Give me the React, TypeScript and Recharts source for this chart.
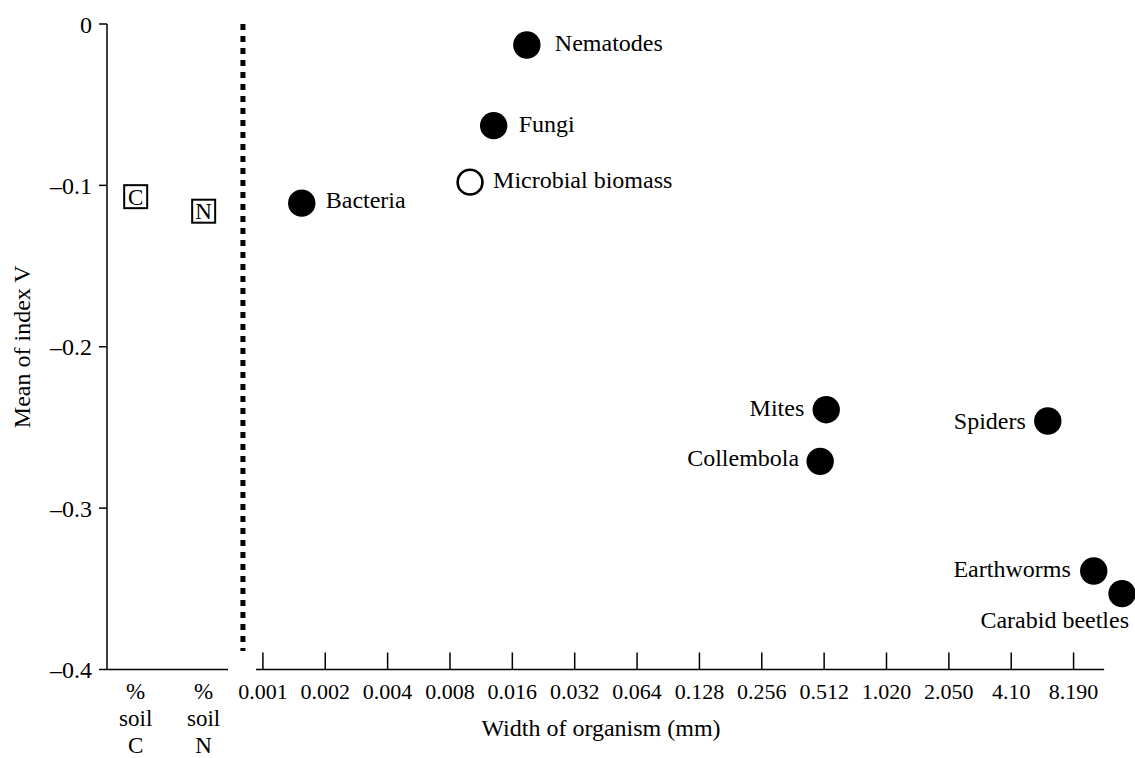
import { ScatterChart, Scatter, XAxis, YAxis, ReferenceLine } from "recharts"

// organisms, width in mm and mean of index V
const organisms = ["Bacteria", "Microbial biomass", "Fungi", "Nematodes", "Collembola", "Mites", "Spiders", "Earthworms", "Carabid beetles"]
const widthMm = [0.00154, 0.01, 0.013, 0.0188, 0.49, 0.524, 6.15, 10.25, 14.04]
const indexV = [-0.111, -0.098, -0.063, -0.013, -0.271, -0.239, -0.246, -0.339, -0.353]
const openMarkers = ["Microbial biomass"]

// soil variables on the left part of the axis
const soilLabels = ["C", "N"]
const soilTickPos = [-2.04, -0.95]
const soilIndexV = [-0.107, -0.116]

const widthTickLabels = ["0.001", "0.002", "0.004", "0.008", "0.016", "0.032", "0.064", "0.128", "0.256", "0.512", "1.020", "2.050", "4.10", "8.190"]
const yTicks = [0, -0.1, -0.2, -0.3, -0.4]

const FONT = '"Liberation Serif", "Times New Roman", serif'
const BASE_MM = 0.001

const toSteps = (mm: number) => Math.log2(mm / BASE_MM)

const organismData = organisms.map((name, i) => ({ name, x: toSteps(widthMm[i]), v: indexV[i] }))
const soilData = soilLabels.map((label, i) => ({ label, x: soilTickPos[i], v: soilIndexV[i] }))
const xTicks = [...soilTickPos, ...widthTickLabels.map((_, i) => i)]

const labelPlace: Record<string, { dx: number; dy: number; anchor: "start" | "end" }> = {
  Bacteria: { dx: 24, dy: 5, anchor: "start" },
  "Microbial biomass": { dx: 23, dy: 6, anchor: "start" },
  Fungi: { dx: 25, dy: 6, anchor: "start" },
  Nematodes: { dx: 28, dy: 6, anchor: "start" },
  Collembola: { dx: -21, dy: 5, anchor: "end" },
  Mites: { dx: -22, dy: 6, anchor: "end" },
  Spiders: { dx: -22, dy: 8, anchor: "end" },
  Earthworms: { dx: -23, dy: 6, anchor: "end" },
  "Carabid beetles": { dx: 7, dy: 34, anchor: "end" },
}

const OrganismDot = (props: any) => {
  const { cx, cy, payload } = props
  const place = labelPlace[payload.name]
  const open = openMarkers.includes(payload.name)
  return (
    <g>
      {open ? (
        <circle cx={cx} cy={cy} r={12.4} fill="#fff" stroke="#000" strokeWidth={2.6} />
      ) : (
        <circle cx={cx} cy={cy} r={13.7} fill="#000" />
      )}
      <text x={cx + place.dx} y={cy + place.dy} textAnchor={place.anchor} fontFamily={FONT} fontSize={24} fill="#000">
        {payload.name}
      </text>
    </g>
  )
}

const SoilBox = (props: any) => {
  const { cx, cy, payload } = props
  return (
    <g>
      <rect x={cx - 11.5} y={cy - 11.5} width={23} height={23} fill="#fff" stroke="#000" strokeWidth={2} />
      <text x={cx} y={cy + 8} textAnchor="middle" fontFamily={FONT} fontSize={23} fill="#000">
        {payload.label}
      </text>
    </g>
  )
}

const WidthTick = (props: any) => {
  const { x, y, payload } = props
  const soilIdx = soilTickPos.indexOf(payload.value)
  if (soilIdx >= 0) {
    return (
      <text x={x} y={y + 29} textAnchor="middle" fontFamily={FONT} fontSize={23} fill="#000">
        <tspan x={x} dy={0}>%</tspan>
        <tspan x={x} dy={27.5}>soil</tspan>
        <tspan x={x} dy={26.5}>{soilLabels[soilIdx]}</tspan>
      </text>
    )
  }
  return (
    <g>
      <line x1={x} y1={y} x2={x} y2={y - 17} stroke="#000" strokeWidth={1.5} />
      <text x={x} y={y + 29.5} textAnchor="middle" fontFamily={FONT} fontSize={22} fill="#000">
        {widthTickLabels[payload.value]}
      </text>
    </g>
  )
}

export default function App() {
  return (
    <div style={{ position: "absolute", left: 0, top: 0, background: "#fff" }}>
      <ScatterChart width={1135} height={758} margin={{ top: 24, right: 0, bottom: 0, left: 0 }} style={{ fontFamily: FONT }}>
        <XAxis
          type="number"
          dataKey="x"
          domain={[-2.5, 13.985]}
          ticks={xTicks}
          interval={0}
          tick={<WidthTick />}
          tickLine={false}
          axisLine={false}
          tickSize={0}
          tickMargin={0}
          height={88.5}
          label={{ value: "Width of organism (mm)", position: "insideBottom", offset: 22, dx: -20, fontFamily: FONT, fontSize: 24, fill: "#000" }}
        />
        <YAxis
          type="number"
          dataKey="v"
          domain={[-0.4, 0]}
          ticks={yTicks}
          interval={0}
          width={107}
          tickSize={8}
          tickMargin={7}
          tickFormatter={(v: number) => (v === 0 ? "0" : "\u2013" + Math.abs(v))}
          tick={{ fontFamily: FONT, fontSize: 24, fill: "#000" }}
          axisLine={{ stroke: "#000", strokeWidth: 1.5 }}
          tickLine={{ stroke: "#000", strokeWidth: 1.5 }}
          label={{ value: "Mean of index V", angle: -90, position: "insideLeft", offset: 21, style: { textAnchor: "middle" }, fontFamily: FONT, fontSize: 24, fill: "#000" }}
        />
        <ReferenceLine segment={[{ x: -2.5, y: -0.4 }, { x: -0.56, y: -0.4 }]} stroke="#000" strokeWidth={1.5} />
        <ReferenceLine segment={[{ x: -0.11, y: -0.4 }, { x: 13.49, y: -0.4 }]} stroke="#000" strokeWidth={1.5} />
        <ReferenceLine segment={[{ x: -0.32, y: 0 }, { x: -0.32, y: -0.3885 }]} stroke="#000" strokeWidth={5} strokeDasharray="6 6" />
        <Scatter data={soilData} shape={<SoilBox />} isAnimationActive={false} />
        <Scatter data={organismData} shape={<OrganismDot />} isAnimationActive={false} />
      </ScatterChart>
    </div>
  )
}
